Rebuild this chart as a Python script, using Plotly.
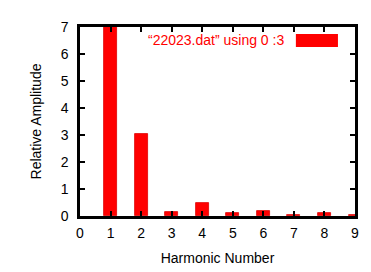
import plotly.graph_objects as go

harmonics = [1, 2, 3, 4, 5, 6, 7, 8, 9]
amplitudes = [8.0, 3.03, 0.15, 0.5, 0.1, 0.18, 0.05, 0.1, 0.04]
x_ticks = [0, 1, 2, 3, 4, 5, 6, 7, 8, 9]
y_ticks = [0, 1, 2, 3, 4, 5, 6, 7]
legend_label = "\u201c22023.dat\u201d using 0 :3"

fig = go.Figure()
fig.add_trace(go.Bar(
    x=harmonics, y=amplitudes, width=0.42,
    marker=dict(color="#ff0000", line=dict(color="#dd0000", width=0.8)),
    showlegend=False,
))

font = dict(family="Liberation Sans, Arial, sans-serif", size=14, color="black")
axis_common = dict(
    showline=True, linecolor="black", linewidth=2.5, mirror="ticks",
    ticks="inside", ticklen=5, tickwidth=1.5, tickcolor="black",
    showgrid=False, zeroline=False, tickfont=font, automargin=False,
)
fig.update_xaxes(range=[0, 9], tickvals=x_ticks, ticklabelstandoff=2,
                 title=dict(text="Harmonic Number", font=font, standoff=14), **axis_common)
fig.update_yaxes(range=[0, 7], tickvals=y_ticks, ticklabelstandoff=6,
                 title=dict(text="Relative Amplitude", font=font, standoff=16), **axis_common)

fig.add_annotation(x=0.75, y=0.93, xref="paper", yref="paper", text=legend_label,
                   showarrow=False, xanchor="right", yanchor="middle",
                   font=dict(family="Liberation Sans, Arial, sans-serif", size=14, color="#ff0000"))
fig.add_shape(type="rect", xref="paper", yref="paper", x0=0.785, x1=0.938, y0=0.894, y1=0.963,
              fillcolor="#ff0000", line=dict(width=0))

fig.update_layout(
    width=371, height=272,
    margin=dict(l=80, r=16, t=27, b=56),
    plot_bgcolor="white", paper_bgcolor="white",
    bargap=0,
)
fig.write_html("out.html")
